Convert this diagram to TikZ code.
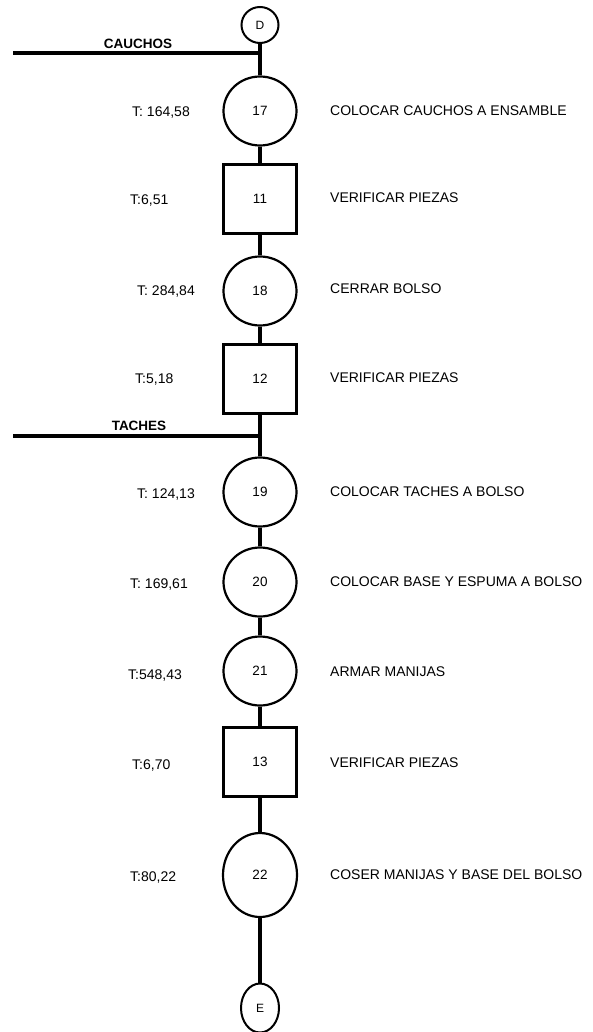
\documentclass[tikz,border=0pt]{standalone}
\usepackage{fontspec}
\setmainfont{Liberation Sans}
\usetikzlibrary{
    positioning,
    shapes.geometric,
}
\tikzset{
    % Node styles
    operacion/.style={ellipse, draw, line width=2.2pt, minimum width=73pt,
                      minimum height=69pt, inner sep=0pt, font=\fontsize{13.5}{16}\selectfont},
    inspeccion/.style={rectangle, draw, line width=2.4pt, minimum width=73pt,
                       minimum height=69pt, inner sep=0pt, font=\fontsize{13.5}{16}\selectfont},
    conector/.style={ellipse, draw, line width=2pt, minimum width=37pt,
                     minimum height=36pt, inner sep=0pt, font=\fontsize{12}{14}\selectfont},
    % Line styles
    flujo/.style={line width=3.2pt},
    entrada/.style={line width=3.2pt},
    % Text styles
    tiempo/.style={anchor=west, inner sep=0pt, font=\fontsize{14}{16}\selectfont},
    actividad/.style={anchor=west, inner sep=0pt, font=\fontsize{14}{16}\selectfont},
    material/.style={inner sep=0pt, font=\fontsize{13.5}{15}\selectfont\bfseries},
}

\begin{document}
\begin{tikzpicture}[x=1pt, y=-1pt]
    \useasboundingbox (0,0) rectangle (592,1032);

    % Symbols
    \node[conector] (D) at (260, 25) {D};
    \node[operacion] (op17) at (260, 111) {17};
    \node[inspeccion] (in11) at (260, 199) {11};
    \node[operacion] (op18) at (260, 291) {18};
    \node[inspeccion] (in12) at (260, 379) {12};
    \node[operacion] (op19) at (260, 492) {19};
    \node[operacion] (op20) at (260, 582) {20};
    \node[operacion] (op21) at (260, 671) {21};
    \node[inspeccion] (in13) at (260, 762) {13};
    \node[operacion, minimum width=74pt, minimum height=84pt] (op22) at (260, 875) {22};
    \node[conector, minimum width=38pt, minimum height=49pt] (E) at (260, 1008) {E};

    % Main flow
    \draw[flujo] (D) -- (op17) -- (in11) -- (op18) -- (in12) -- (op19)
        -- (op20) -- (op21) -- (in13) -- (op22) -- (E);

    % Materials
    \coordinate (caucho) at (13, 53);
    \coordinate (j1) at (260, 53);
    \draw[entrada] (caucho) -- (j1);
    \node[material] (tcaucho) at (138, 44) {CAUCHOS};

    \coordinate (tache) at (13, 436);
    \coordinate (j2) at (260, 436);
    \draw[entrada] (tache) -- (j2);
    \node[material] (ttache) at (139, 426) {TACHES};

    % Times
    \foreach \n/\x/\y/\t in {17/132/113/{T: 164,58}, 11/130/201/{T:6,51},
                              18/137/292/{T: 284,84}, 12/135/380/{T:5,18},
                              19/137/495/{T: 124,13}, 20/130/585/{T: 169,61},
                              21/128/676/{T:548,43}, 13/132/765/{T:6,70},
                              22/130/877/{T:80,22}} {
        \node[tiempo] (t\n) at (\x, \y) {\t};
    }

    % Activities
    \foreach \n/\y/\t in {17/111/{COLOCAR CAUCHOS A ENSAMBLE}, 11/198/{VERIFICAR PIEZAS},
                          18/289/{CERRAR BOLSO}, 12/378/{VERIFICAR PIEZAS},
                          19/492/{COLOCAR TACHES A BOLSO}, 20/582/{COLOCAR BASE Y ESPUMA A BOLSO},
                          21/672/{ARMAR MANIJAS}, 13/763/{VERIFICAR PIEZAS},
                          22/875/{COSER MANIJAS Y BASE DEL BOLSO}} {
        \node[actividad] (a\n) at (330, \y) {\t};
    }
\end{tikzpicture}
\end{document}
